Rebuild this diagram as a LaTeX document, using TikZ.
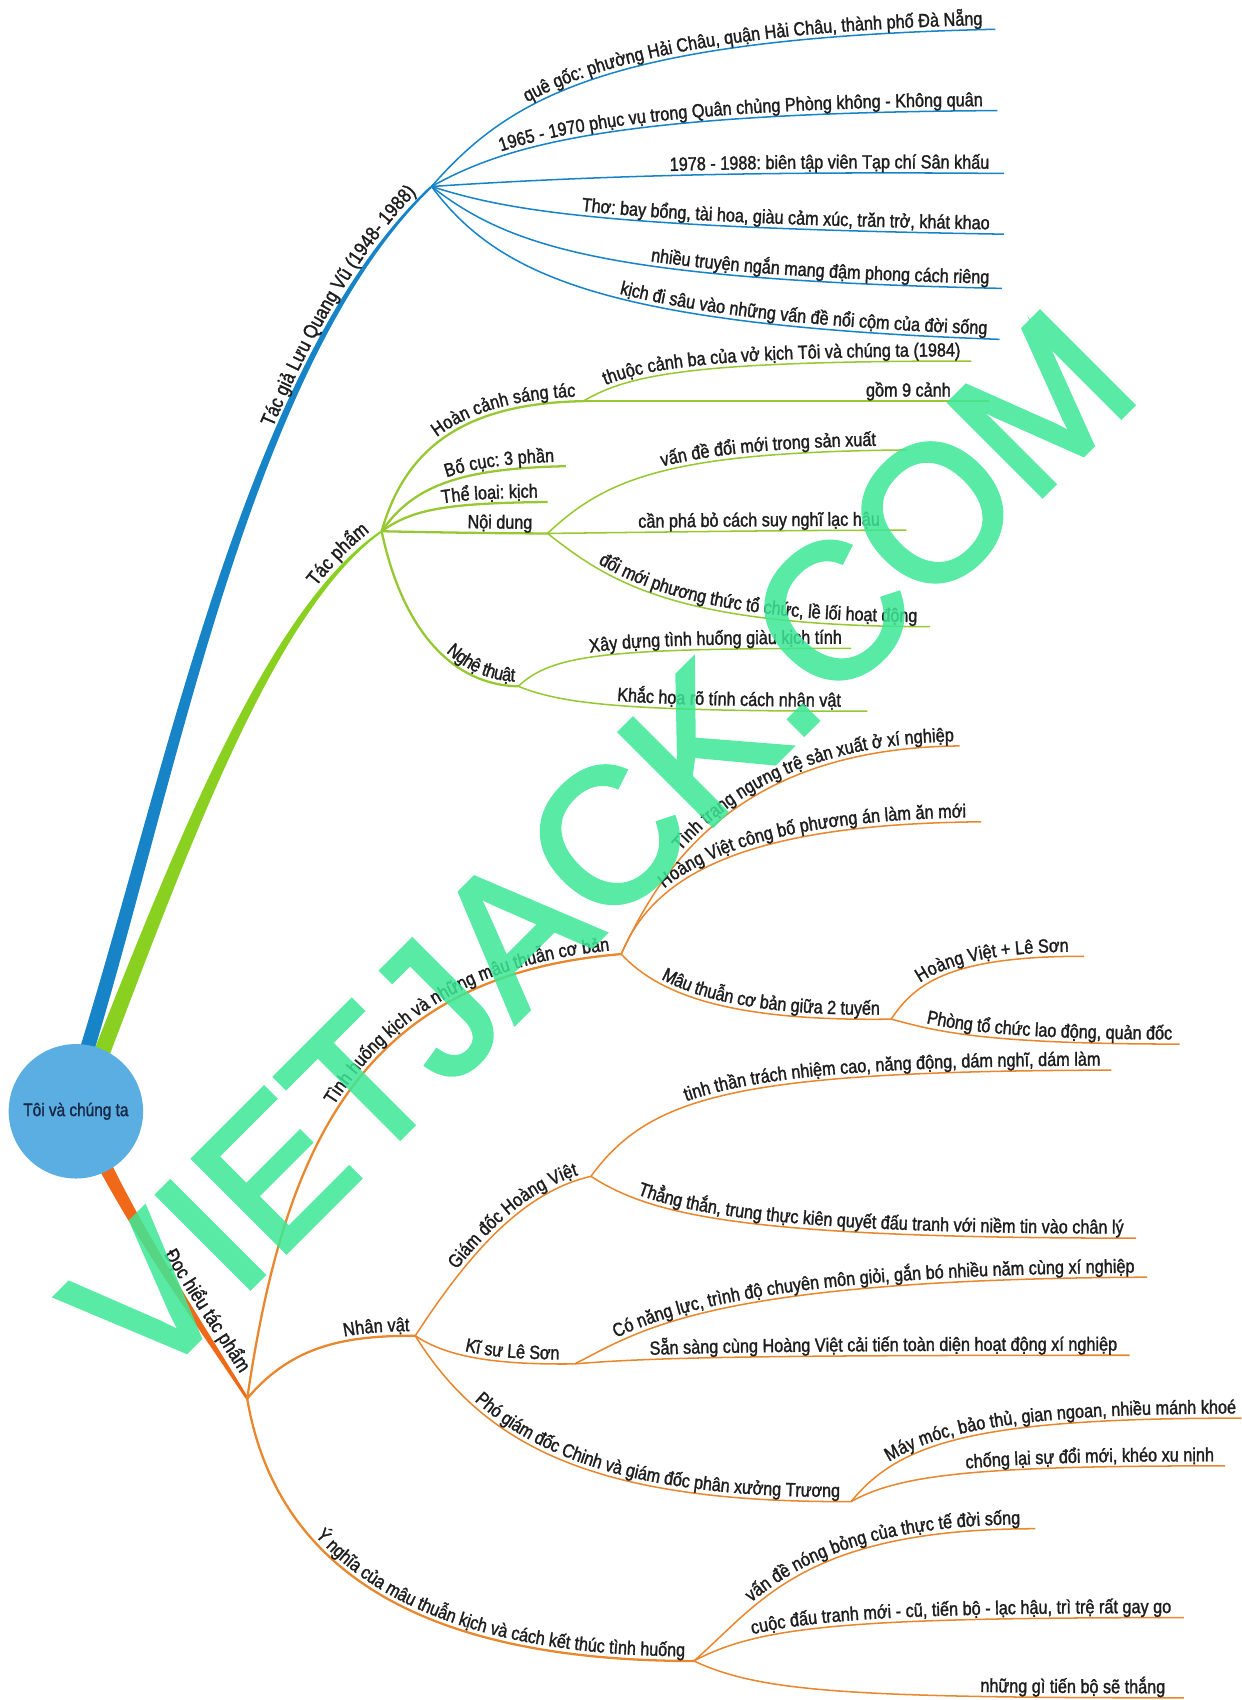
\documentclass[tikz,border=0pt]{standalone}
\usepackage{fontspec}
\setmainfont{Liberation Sans}[FakeStretch=0.85,FakeBold=1.5]
\newfontfamily\markfont{Liberation Sans}[FakeBold=2.5]
\usetikzlibrary{calc,decorations.text}
\pgfdeclarelayer{trunks}
\pgfsetlayers{trunks,main}

\definecolor{hubblue}{RGB}{90,174,226}
\definecolor{hubtext}{RGB}{25,40,70}
\definecolor{authorblue}{RGB}{24,132,200}
\definecolor{workgreen}{RGB}{138,208,32}
\definecolor{workleaf}{RGB}{150,200,50}
\definecolor{readorange}{RGB}{240,105,25}
\definecolor{readleaf}{RGB}{232,135,45}
\definecolor{labelgray}{RGB}{30,30,30}
\definecolor{markgreen}{RGB}{60,232,150}

\newcommand{\topicfont}{\fontsize{10.5}{12.6}\selectfont}

\tikzstyle{hub}=[circle,fill=hubblue,minimum size=24.8mm,inner sep=0pt,
    text=hubtext,font=\fontsize{9.5}{11}\selectfont]
\tikzstyle{blue twig}=[draw=authorblue,line width=0.8pt]
\tikzstyle{green twig}=[draw=workleaf,line width=0.8pt]
\tikzstyle{orange twig}=[draw=readleaf,line width=0.8pt]
\tikzstyle{thick twig}=[line width=1.2pt]
\tikzstyle{watermark}=[rotate=45,text=markgreen,inner sep=0pt,
    font=\markfont\fontsize{100}{100}\selectfont]

\newcommand{\twig}[6][]{%
    \draw[#1,postaction={decorate,decoration={text along path,
        text color=labelgray,raise=2.4pt,
        text align={right,right indent=#5},text={#6}}}]
        (#2) .. controls #3 .. (#4);
}
\newcommand{\trunk}[6]{%
    \fill[#1] ($(#2)+(-#6,0)$) .. controls ($(#3)+(-0.8*#6,0)$)
        and ($(#4)+(-0.45*#6,0)$) .. ($(#5)+(-1.5,0)$) --
        ($(#5)+(1.5,0)$) .. controls ($(#4)+(0.45*#6,0)$)
        and ($(#3)+(0.8*#6,0)$) .. ($(#2)+(#6,0)$) -- cycle;
}
\newcommand{\trunklabel}[6]{%
    \path[decorate,decoration={text along path,text color=labelgray,
        raise=#5,text align={right,right indent=#6},text={|\topicfont|#4}}]
        (#1) .. controls #2 .. (#3);
}

\begin{document}
\begin{tikzpicture}[x=0.2mm,y=-0.2mm]
    \fontsize{10}{12}\selectfont
    \useasboundingbox (0,0) rectangle (1145,1568);
    \node[hub] (toi) at (70,1025) {Tôi và chúng ta};
    %
    \coordinate (stemB) at ($(toi)!0.9!(toi.80)$);
    \coordinate (stemG) at ($(toi)!0.9!(toi.66)$);
    \coordinate (stemO) at ($(toi)!0.9!(toi.-62)$);
    %
    \coordinate (B0) at (398,172);
    \coordinate (G0) at (352,490);
    \coordinate (G1) at (538,370);
    \coordinate (G4) at (505,492);
    \coordinate (G5) at (478,633);
    \coordinate (O0) at (228,1290);
    \coordinate (O1) at (573,880);
    \coordinate (O1c) at (822,940);
    \coordinate (O2) at (383,1232);
    \coordinate (O2a) at (545,1085);
    \coordinate (O2b) at (530,1258);
    \coordinate (O2c) at (785,1385);
    \coordinate (O3) at (640,1532);
    %
    \coordinate (b1) at (918,27);
    \coordinate (b2) at (920,102);
    \coordinate (b3) at (926,160);
    \coordinate (b4) at (926,216);
    \coordinate (b5) at (924,266);
    \coordinate (b6) at (922,313);
    \coordinate (g1a) at (896,333);
    \coordinate (g1b) at (912,370);
    \coordinate (g2) at (522,430);
    \coordinate (g3) at (505,463);
    \coordinate (g4a) at (836,415);
    \coordinate (g4b) at (836,489);
    \coordinate (g4c) at (858,578);
    \coordinate (g5a) at (785,598);
    \coordinate (g5b) at (800,656);
    \coordinate (o1a) at (885,688);
    \coordinate (o1b) at (905,758);
    \coordinate (o1c1) at (1000,882);
    \coordinate (o1c2) at (1088,963);
    \coordinate (o2a1) at (1025,987);
    \coordinate (o2a2) at (1048,1142);
    \coordinate (o2b1) at (1058,1178);
    \coordinate (o2b2) at (1042,1250);
    \coordinate (o2c1) at (1145,1308);
    \coordinate (o2c2) at (1130,1352);
    \coordinate (o3a) at (955,1410);
    \coordinate (o3b) at (1092,1492);
    \coordinate (o3c) at (1092,1566);
    %
    \begin{pgfonlayer}{trunks}
    \trunk{authorblue}{stemB}{162,700}{232,330}{B0}{7}
    \trunk{workgreen}{stemG}{172,770}{252,560}{G0}{8}
    \trunk{readorange}{stemO}{135,1150}{190,1230}{O0}{7}
    \end{pgfonlayer}
    %
    \trunklabel{stemB}{(162,700) and (232,330)}{B0}{Tác giả Lưu Quang Vũ (1948- 1988)}{3.2pt}{8pt}
    \trunklabel{stemG}{(172,770) and (252,560)}{G0}{Tác phẩm}{3.5pt}{5pt}
    \trunklabel{stemO}{(135,1150) and (190,1230)}{O0}{Đọc hiểu tác phẩm}{4pt}{13pt}
    %
    \twig[blue twig]{B0}{(470,90) and (560,35)}{b1}{7pt}{quê gốc: phường Hải Châu, quận Hải Châu, thành phố Đà Nẵng}
    \twig[blue twig]{B0}{(465,135) and (560,104)}{b2}{8pt}{1965 - 1970 phục vụ trong Quân chủng Phòng không - Không quân}
    \twig[blue twig]{B0}{(550,162) and (700,158)}{b3}{8pt}{1978 - 1988: biên tập viên Tạp chí Sân khấu}
    \twig[blue twig]{B0}{(470,195) and (560,210)}{b4}{8pt}{Thơ: bay bổng, tài hoa, giàu cảm xúc, trăn trở, khát khao}
    \twig[blue twig]{B0}{(470,228) and (560,258)}{b5}{7pt}{nhiều truyện ngắn mang đậm phong cách riêng}
    \twig[blue twig]{B0}{(460,255) and (560,300)}{b6}{7pt}{kịch đi sâu vào những vấn đề nổi cộm của đời sống}
    %
    \twig[green twig,thick twig]{G0}{(372,420) and (420,372)}{G1}{4pt}{Hoàn cảnh sáng tác}
    \twig[green twig]{G1}{(580,345) and (640,333)}{g1a}{6pt}{thuộc cảnh ba của vở kịch Tôi và chúng ta (1984)}
    \twig[green twig]{G1}{(650,370) and (800,370)}{g1b}{20pt}{gồm 9 cảnh}
    \twig[green twig,thick twig]{G0}{(380,450) and (420,432)}{g2}{6pt}{Bố cục: 3 phần}
    \twig[green twig,thick twig]{G0}{(380,470) and (410,464)}{g3}{5pt}{Thể loại: kịch}
    \twig[green twig,thick twig]{G0}{(400,491) and (460,492)}{G4}{8pt}{Nội dung}
    \twig[green twig]{G4}{(560,440) and (620,417)}{g4a}{16pt}{vấn đề đổi mới trong sản xuất}
    \twig[green twig]{G4}{(600,491) and (720,489)}{g4b}{14pt}{cần phá bỏ cách suy nghĩ lạc hậu}
    \twig[green twig]{G4}{(560,535) and (620,578)}{g4c}{7pt}{đổi mới phương thức tổ chức, lề lối hoạt động}
    \twig[green twig,thick twig]{G0}{(372,585) and (420,632)}{G5}{2pt}{Nghệ thuật}
    \twig[green twig]{G5}{(510,603) and (560,598)}{g5a}{5pt}{Xây dựng tình huống giàu kịch tính}
    \twig[green twig]{G5}{(520,650) and (580,656)}{g5b}{14pt}{Khắc họa rõ tính cách nhân vật}
    %
    \twig[orange twig,thick twig]{O0}{(262,1060) and (330,900)}{O1}{6pt}{Tình huống kịch và những mâu thuẫn cơ bản}
    \twig[orange twig]{O1}{(610,800) and (680,690)}{o1a}{3pt}{Tình trạng ngưng trệ sản xuất ở xí nghiệp}
    \twig[orange twig]{O1}{(600,815) and (670,760)}{o1b}{8pt}{Hoàng Việt công bố phương án làm ăn mới}
    \twig[orange twig]{O1}{(610,920) and (680,942)}{O1c}{6pt}{Mâu thuẫn cơ bản giữa 2 tuyến}
    \twig[orange twig]{O1c}{(845,905) and (880,882)}{o1c1}{8pt}{Hoàng Việt + Lê Sơn}
    \twig[orange twig]{O1c}{(860,950) and (900,963)}{o1c2}{4pt}{Phòng tổ chức lao động, quản đốc}
    \twig[orange twig,thick twig]{O0}{(270,1240) and (320,1232)}{O2}{3pt}{Nhân vật}
    \twig[orange twig]{O2}{(430,1160) and (480,1100)}{O2a}{6pt}{Giám đốc Hoàng Việt}
    \twig[orange twig]{O2a}{(600,1010) and (680,988)}{o2a1}{6pt}{tinh thần trách nhiệm cao, năng động, dám nghĩ, dám làm}
    \twig[orange twig]{O2a}{(600,1120) and (680,1142)}{o2a2}{7pt}{Thẳng thắn, trung thực kiên quyết đấu tranh với niềm tin vào chân lý}
    \twig[orange twig]{O2}{(410,1250) and (450,1259)}{O2b}{8pt}{Kĩ sư Lê Sơn}
    \twig[orange twig]{O2b}{(590,1228) and (650,1180)}{o2b1}{7pt}{Có năng lực, trình độ chuyên môn giỏi, gắn bó nhiều năm cùng xí nghiệp}
    \twig[orange twig]{O2b}{(600,1252) and (700,1250)}{o2b2}{7pt}{Sẵn sàng cùng Hoàng Việt cải tiến toàn diện hoạt động xí nghiệp}
    \twig[orange twig]{O2}{(450,1340) and (560,1386)}{O2c}{6pt}{Phó giám đốc Chinh và giám đốc phân xưởng Trương}
    \twig[orange twig]{O2c}{(830,1330) and (900,1308)}{o2c1}{3pt}{Máy móc, bảo thủ, gian ngoan, nhiều mánh khoé}
    \twig[orange twig]{O2c}{(830,1360) and (900,1352)}{o2c2}{6pt}{chống lại sự đổi mới, khéo xu nịnh}
    \twig[orange twig,thick twig]{O0}{(250,1420) and (350,1532)}{O3}{5pt}{Ý nghĩa của mâu thuẫn kịch và cách kết thúc tình huống}
    \twig[orange twig]{O3}{(700,1480) and (740,1410)}{o3a}{8pt}{vấn đề nóng bỏng của thực tế đời sống}
    \twig[orange twig]{O3}{(700,1500) and (780,1492)}{o3b}{7pt}{cuộc đấu tranh mới - cũ, tiến bộ - lạc hậu, trì trệ rất gay go}
    \twig[orange twig]{O3}{(700,1560) and (780,1566)}{o3c}{10pt}{những gì tiến bộ sẽ thắng}
    %
    \begin{scope}[transparency group,opacity=0.85]
    \node[watermark] (vj) at (553,780) {VIETJACK.COM};
    \end{scope}
\end{tikzpicture}
\end{document}
